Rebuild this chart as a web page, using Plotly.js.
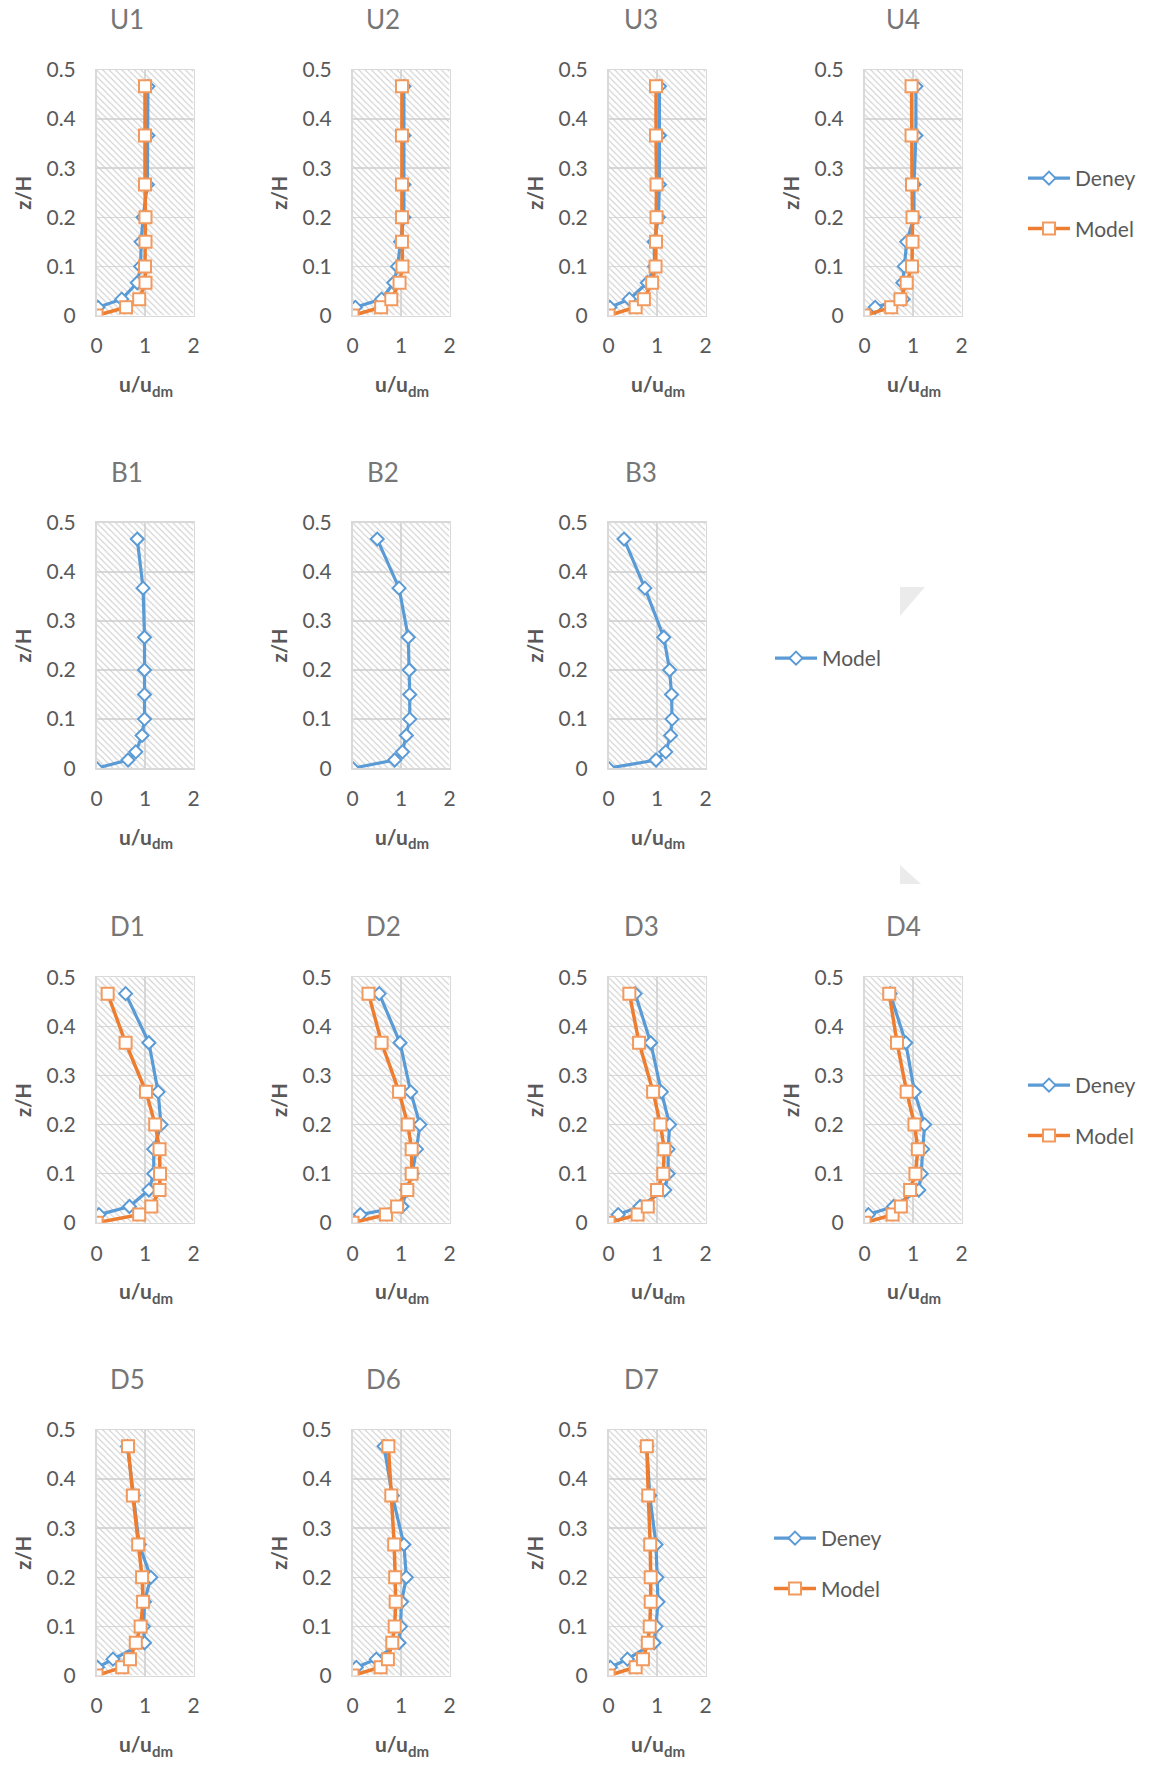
<!DOCTYPE html>
<html><head><meta charset="utf-8">
<script src="https://cdn.plot.ly/plotly-3.0.1.min.js"></script>
<style>html,body{margin:0;padding:0;background:#fff}</style>
</head><body><div id="chart" style="width:1149px;height:1765px"></div>
<script>
// ---------- data ----------
const zModel = [0, 0.0167, 0.0333, 0.0667, 0.1, 0.15, 0.2, 0.2667, 0.3667, 0.4667];
const zDeney = [0.0167, 0.0333, 0.0667, 0.1, 0.15, 0.2, 0.2667, 0.3667, 0.4667];

const panelNames = ['U1','U2','U3','U4','B1','B2','B3','D1','D2','D3','D4','D5','D6','D7'];
const xTicks = [0, 1, 2];
const yTicks = [0, 0.1, 0.2, 0.3, 0.4, 0.5];
const xTitleMain = 'u/u';
const xTitleSub = 'dm';
const yTitle = 'z/H';

const modelU1 = [0, 0.61, 0.88, 1.01, 1.00, 1.01, 1.01, 1.00, 1.00, 1.00];
const deneyU1 = [0.03, 0.52, 0.84, 0.91, 0.92, 0.96, 1.05, 1.06, 1.06];
const modelU2 = [0, 0.59, 0.80, 0.97, 1.03, 1.02, 1.02, 1.02, 1.02, 1.02];
const deneyU2 = [0.06, 0.60, 0.85, 0.93, 0.99, 1.06, 1.06, 1.06, 1.06];
const modelU3 = [0, 0.56, 0.73, 0.90, 0.97, 0.98, 0.99, 0.99, 0.98, 0.98];
const deneyU3 = [0.03, 0.43, 0.80, 0.95, 0.94, 1.03, 1.05, 1.05, 1.05];
const modelU4 = [0, 0.55, 0.74, 0.87, 0.98, 0.99, 0.99, 0.98, 0.97, 0.97];
const deneyU4 = [0.22, 0.80, 0.79, 0.82, 0.87, 1.02, 1.02, 1.06, 1.06];

const modelB1 = [0, 0.65, 0.81, 0.94, 0.99, 0.99, 0.99, 0.99, 0.96, 0.84];
const modelB2 = [0, 0.87, 1.03, 1.11, 1.18, 1.18, 1.17, 1.15, 0.96, 0.51];
const modelB3 = [0, 0.98, 1.18, 1.28, 1.31, 1.30, 1.26, 1.14, 0.75, 0.32];

const modelD1 = [0, 0.88, 1.13, 1.30, 1.31, 1.30, 1.21, 1.02, 0.60, 0.23];
const deneyD1 = [0.05, 0.68, 1.08, 1.18, 1.18, 1.33, 1.27, 1.08, 0.60];
const modelD2 = [0, 0.69, 0.92, 1.13, 1.22, 1.22, 1.14, 0.96, 0.60, 0.33];
const deneyD2 = [0.16, 1.02, 1.12, 1.23, 1.32, 1.39, 1.20, 0.98, 0.55];
const modelD3 = [0, 0.60, 0.81, 1.00, 1.13, 1.15, 1.07, 0.92, 0.63, 0.43];
const deneyD3 = [0.20, 0.65, 1.16, 1.23, 1.23, 1.26, 1.09, 0.87, 0.55];
const modelD4 = [0, 0.58, 0.75, 0.94, 1.05, 1.10, 1.03, 0.87, 0.67, 0.51];
const deneyD4 = [0.08, 0.60, 1.12, 1.17, 1.20, 1.24, 1.03, 0.85, 0.53];
const modelD5 = [0, 0.53, 0.69, 0.81, 0.91, 0.96, 0.94, 0.86, 0.75, 0.65];
const deneyD5 = [0.02, 0.34, 0.99, 0.97, 0.99, 1.12, 0.88, 0.76, 0.64];
const modelD6 = [0, 0.58, 0.73, 0.82, 0.87, 0.89, 0.88, 0.86, 0.80, 0.74];
const deneyD6 = [0.08, 0.49, 0.96, 0.99, 1.01, 1.11, 1.06, 0.82, 0.65];
const modelD7 = [0, 0.56, 0.71, 0.81, 0.85, 0.87, 0.87, 0.86, 0.82, 0.79];
const deneyD7 = [0.04, 0.39, 0.94, 0.98, 1.02, 1.00, 0.98, 0.85, 0.79];

const modelSeries = [modelU1, modelU2, modelU3, modelU4, modelB1, modelB2, modelB3,
                     modelD1, modelD2, modelD3, modelD4, modelD5, modelD6, modelD7];
const deneySeries = [deneyU1, deneyU2, deneyU3, deneyU4, null, null, null,
                     deneyD1, deneyD2, deneyD3, deneyD4, deneyD5, deneyD6, deneyD7];

// ---------- layout geometry (pixels) ----------
const W = 1149, H = 1765;
const rowOf = [0,0,0,0,1,1,1,2,2,2,2,3,3,3];
const colOf = [0,1,2,3,0,1,2,0,1,2,3,0,1,2];
const plotLeft = [96.5, 352.5, 608.5, 864.5];
const plotW = 97;
const plotTop = [70, 522.7, 977.3, 1430];
const plotH = 245.5;
const titleX = [127, 383, 641, 903];

const BLUE = '#5B9BD5', ORANGE = '#ED7D31', ORANGE_MK = '#F29A5E';
const TXT = '#595959';
const FONT = 'Lato, "Open Sans", sans-serif';
const legendIds = ['legend', 'legend2', 'legend3', 'legend4'];

const px = v => v / W;
const py = v => 1 - v / H;

const traces = [];
const layout = {
  width: W, height: H,
  margin: {l: 0, r: 0, t: 0, b: 0},
  paper_bgcolor: '#ffffff', plot_bgcolor: '#ffffff',
  font: {family: FONT, color: TXT},
  annotations: [],
  shapes: [
    {type: 'path', xref: 'paper', yref: 'paper', layer: 'below',
     path: `M ${px(900)} ${py(587)} L ${px(925)} ${py(587)} L ${px(900)} ${py(616)} Z`,
     fillcolor: '#ebebeb', line: {width: 0}},
    {type: 'path', xref: 'paper', yref: 'paper', layer: 'below',
     path: `M ${px(900)} ${py(865)} L ${px(900)} ${py(884)} L ${px(921)} ${py(884)} Z`,
     fillcolor: '#ebebeb', line: {width: 0}}
  ],
  showlegend: true
};

const legendRowShown = [false, false, false, false];

panelNames.forEach((name, i) => {
  const r = rowOf[i], c = colOf[i];
  const sfx = i === 0 ? '' : String(i + 1);
  const xa = 'x' + sfx, ya = 'y' + sfx;
  const L = plotLeft[c], T = plotTop[r];
  layout['xaxis' + sfx] = {
    domain: [px(L), px(L + plotW)], anchor: ya,
    range: [0, 2], tickvals: xTicks, fixedrange: true,
    showgrid: true, gridcolor: '#d9d9d9', gridwidth: 1.5,
    zeroline: false, showline: true, linecolor: '#d9d9d9', linewidth: 1.5, mirror: true,
    ticks: '', ticklabelstandoff: 11,
    tickfont: {family: FONT, size: 21, color: TXT}
  };
  layout['yaxis' + sfx] = {
    domain: [py(T + plotH), py(T)], anchor: xa,
    range: [0, 0.5], tickvals: yTicks, ticktext: yTicks.map(String), fixedrange: true,
    showgrid: true, gridcolor: '#d9d9d9', gridwidth: 1.5,
    zeroline: false, showline: true, linecolor: '#d9d9d9', linewidth: 1.5, mirror: true,
    ticks: '', ticklabelstandoff: 15,
    tickfont: {family: FONT, size: 21, color: TXT},
    title: {text: yTitle, standoff: 9,
            font: {family: FONT, size: 20, color: TXT, weight: 'bold'}}
  };
  // panel title
  layout.annotations.push({
    text: name, xref: 'paper', yref: 'paper',
    x: px(titleX[c]), y: py(T - 51), xanchor: 'center', yanchor: 'middle',
    showarrow: false, font: {family: FONT, size: 26, color: '#767676'}
  });
  // x-axis title "u/u" with subscript "dm"
  layout.annotations.push({
    text: xTitleMain, xref: 'paper', yref: 'paper',
    x: px(L + 57.8), y: py(T + plotH + 68), xanchor: 'right', yanchor: 'middle',
    showarrow: false, font: {family: FONT, size: 21, color: TXT, weight: 'bold'}
  });
  layout.annotations.push({
    text: xTitleSub, xref: 'paper', yref: 'paper',
    x: px(L + 53.5), y: py(T + plotH + 75), xanchor: 'left', yanchor: 'middle',
    showarrow: false, font: {family: FONT, size: 15, color: TXT, weight: 'bold'}
  });

  // hatched plot background
  traces.push({
    type: 'scatter', xaxis: xa, yaxis: ya,
    x: [0, 2, 2, 0, 0], y: [0, 0, 0.5, 0.5, 0],
    mode: 'none', fill: 'toself', fillcolor: 'rgba(0,0,0,0)',
    fillpattern: {shape: '\\', fgcolor: '#cdcdcd', bgcolor: 'rgba(255,255,255,0)',
                  fillmode: 'replace', size: 4.5, solidity: 0.25},
    hoverinfo: 'skip', showlegend: false
  });

  const showLeg = !legendRowShown[r];
  legendRowShown[r] = true;
  const deney = deneySeries[i];
  if (deney) {
    traces.push({
      type: 'scatter', xaxis: xa, yaxis: ya, name: 'Deney',
      x: deney, y: zDeney, mode: 'lines+markers',
      line: {color: BLUE, width: 3.2},
      marker: {symbol: 'diamond', size: 10, color: '#ffffff', line: {color: BLUE, width: 2}},
      legend: legendIds[r], legendgroup: 'deney' + r, showlegend: showLeg
    });
    traces.push({
      type: 'scatter', xaxis: xa, yaxis: ya, name: 'Model',
      x: modelSeries[i], y: zModel, mode: 'lines+markers',
      line: {color: ORANGE, width: 3.5},
      marker: {symbol: 'square', size: 12, color: '#ffffff', line: {color: ORANGE_MK, width: 2}},
      legend: legendIds[r], legendgroup: 'model' + r, showlegend: showLeg
    });
  } else {
    traces.push({
      type: 'scatter', xaxis: xa, yaxis: ya, name: 'Model',
      x: modelSeries[i], y: zModel, mode: 'lines+markers',
      line: {color: BLUE, width: 3.2},
      marker: {symbol: 'diamond', size: 10, color: '#ffffff', line: {color: BLUE, width: 2}},
      legend: legendIds[r], legendgroup: 'model' + r, showlegend: showLeg
    });
  }
});

const legBase = {
  xanchor: 'left', yanchor: 'top', bgcolor: 'rgba(0,0,0,0)', borderwidth: 0,
  font: {family: FONT, size: 21, color: TXT}, itemwidth: 42, tracegroupgap: 20,
  traceorder: 'grouped'
};
layout.legend  = Object.assign({}, legBase, {x: px(1023), y: py(178 - 20)});
layout.legend2 = Object.assign({}, legBase, {x: px(770),  y: py(658 - 20)});
layout.legend3 = Object.assign({}, legBase, {x: px(1023), y: py(1085 - 20)});
layout.legend4 = Object.assign({}, legBase, {x: px(769),  y: py(1540 - 22)});

Plotly.newPlot('chart', traces, layout, {staticPlot: true, displayModeBar: false});
</script>
</body></html>
